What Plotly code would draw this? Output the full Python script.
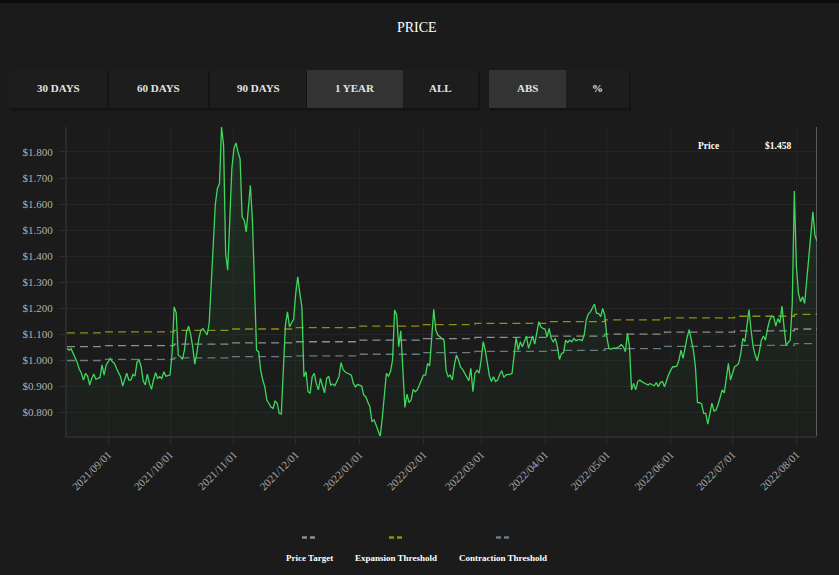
import plotly.graph_objects as go
import pandas as pd

# ---------------- data ----------------
start_date = "2021-08-12"
price = [
    1.046, 1.039, 1.044, 1.026, 1.011, 0.990, 0.965, 0.950, 0.924, 0.950,
    0.939, 0.905, 0.930, 0.947, 0.927, 0.930, 0.934, 0.982, 0.943, 0.982,
    0.995, 1.007, 0.995, 0.988, 0.969, 0.955, 0.937, 0.901, 0.930, 0.950,
    0.924, 0.924, 0.946, 0.939, 0.994, 1.001, 0.975, 0.920, 0.905, 0.947,
    0.911, 0.888, 0.925, 0.952, 0.930, 0.937, 0.930, 0.956, 0.939, 0.942,
    0.943, 1.026, 1.205, 1.182, 1.020, 1.014, 1.003, 1.039, 1.109, 1.131,
    1.100, 1.052, 0.985, 1.026, 1.084, 1.116, 1.121, 1.110, 1.097, 1.141,
    1.282, 1.448, 1.600, 1.660, 1.679, 1.896, 1.826, 1.410, 1.346, 1.538,
    1.736, 1.813, 1.835, 1.800, 1.774, 1.551, 1.538, 1.493, 1.602, 1.672,
    1.538, 1.295, 1.039, 1.033, 0.962, 0.924, 0.898, 0.847, 0.835, 0.820,
    0.815, 0.843, 0.835, 0.796, 0.794, 0.962, 1.135, 1.186, 1.128, 1.144,
    1.157, 1.257, 1.320, 1.257, 1.205, 0.937, 0.956, 0.879, 0.873, 0.937,
    0.950, 0.911, 0.886, 0.930, 0.898, 0.875, 0.930, 0.939, 0.905, 0.909,
    0.902, 0.920, 0.937, 0.991, 0.965, 0.955, 0.950, 0.947, 0.943, 0.911,
    0.898, 0.907, 0.905, 0.901, 0.867, 0.860, 0.840, 0.822, 0.764, 0.771,
    0.751, 0.732, 0.707, 0.777, 0.860, 0.950, 0.939, 0.956, 1.001, 1.193,
    1.173, 1.052, 1.113, 0.962, 0.819, 0.870, 0.837, 0.847, 0.888, 0.879,
    0.886, 0.905, 0.924, 0.943, 0.943, 0.988, 0.978, 1.090, 1.196, 1.116,
    1.097, 1.090, 1.084, 1.077, 0.960, 0.937, 0.943, 0.924, 0.982, 1.020,
    1.001, 0.973, 0.965, 0.950, 0.937, 0.921, 0.969, 0.879, 0.950, 0.962,
    0.950, 1.001, 1.071, 1.039, 0.990, 0.940, 0.918, 0.937, 0.918, 0.924,
    0.945, 0.960, 0.934, 0.943, 0.946, 0.946, 0.950, 1.026, 1.088, 1.039,
    1.071, 1.052, 1.071, 1.093, 1.046, 1.068, 1.093, 1.062, 1.103, 1.148,
    1.128, 1.122, 1.120, 1.090, 1.122, 1.084, 1.071, 1.084, 1.052, 1.003,
    1.026, 1.029, 1.077, 1.068, 1.077, 1.071, 1.084, 1.075, 1.078, 1.080,
    1.075, 1.097, 1.154, 1.177, 1.186, 1.200, 1.216, 1.180, 1.180, 1.167,
    1.199, 1.173, 1.090, 1.046, 1.042, 1.046, 1.046, 1.049, 1.052, 1.061,
    1.052, 1.033, 1.103, 1.052, 0.886, 0.911, 0.886, 0.918, 0.924, 0.918,
    0.912, 0.909, 0.905, 0.911, 0.906, 0.902, 0.914, 0.898, 0.915, 0.918,
    0.898, 0.924, 0.945, 0.962, 0.975, 0.975, 0.978, 1.001, 1.039, 1.007,
    1.050, 1.090, 1.118, 1.077, 1.039, 0.975, 0.837, 0.837, 0.832, 0.796,
    0.796, 0.755, 0.796, 0.835, 0.805, 0.809, 0.830, 0.860, 0.886, 0.875,
    0.930, 0.988, 0.924, 0.950, 0.975, 0.980, 0.988, 1.026, 1.084, 1.071,
    1.128, 1.195, 1.116, 1.052, 1.020, 0.998, 1.033, 1.077, 1.093, 1.077,
    1.122, 1.154, 1.170, 1.167, 1.131, 1.160, 1.144, 1.208, 1.128, 1.058,
    1.068, 1.077, 1.218, 1.650, 1.360, 1.257, 1.225, 1.244, 1.218, 1.308,
    1.410, 1.499, 1.570, 1.480, 1.458,
]

step_dates = [
    "2021-08-12", "2021-08-28", "2021-10-03", "2021-10-31", "2021-12-01",
    "2021-12-31", "2022-01-30", "2022-02-26", "2022-04-02", "2022-04-30",
    "2022-05-29", "2022-07-02", "2022-07-31", "2022-08-11",
]
price_target = [1.052, 1.056, 1.062, 1.067, 1.071, 1.077, 1.083, 1.088,
                1.093, 1.100, 1.108, 1.113, 1.120, 1.120]
expansion_threshold = [1.105, 1.109, 1.115, 1.120, 1.125, 1.131, 1.137, 1.142,
                       1.148, 1.155, 1.163, 1.169, 1.176, 1.176]
contraction_threshold = [0.999, 1.003, 1.009, 1.014, 1.017, 1.023, 1.029, 1.034,
                         1.038, 1.045, 1.053, 1.057, 1.064, 1.064]

range_buttons = ["30 DAYS", "60 DAYS", "90 DAYS", "1 YEAR", "ALL"]
mode_buttons = ["ABS", "%"]
legend_labels = ["Price Target", "Expansion Threshold", "Contraction Threshold"]
current_label = "Price"
current_value = "$1.458"

# ---------------- styling ----------------
W, H = 839, 575
ML, MR, MT, MB = 67, 22, 127, 139
PW, PH = W - ML - MR, H - MT - MB
SERIF = "Liberation Serif, Times New Roman, serif"
BG = "#1b1b1b"
C_PRICE = "#3fd65c"
C_TARGET = "#8e8e8e"
C_EXP = "#8f8f12"
C_CON = "#687a84"


def fx(px):
    return (px - ML) / PW


def fy(py):
    return (H - MB - py) / PH


def label(px, py, text, size, color, bold=True):
    return dict(xref="paper", yref="paper", x=fx(px), y=fy(py),
                xanchor="center", yanchor="middle",
                text=("<b>%s</b>" % text) if bold else text, showarrow=False,
                font=dict(family=SERIF, size=size, color=color))


dates = pd.date_range(start_date, periods=len(price), freq="D")

fig = go.Figure()
for vals, col in [(expansion_threshold, C_EXP), (price_target, C_TARGET),
                  (contraction_threshold, C_CON)]:
    fig.add_trace(go.Scatter(
        x=step_dates, y=vals, mode="lines", showlegend=False, hoverinfo="skip",
        line=dict(color=col, width=1.3, dash="8px,5px", shape="hv")))

fig.add_trace(go.Scatter(
    x=dates, y=price, mode="lines", showlegend=False, hoverinfo="skip",
    line=dict(color=C_PRICE, width=1.3),
    fill="tozeroy",
    fillgradient=dict(type="vertical", start=0.709, stop=1.896,
                      colorscale=[[0, "rgba(63,214,92,0.02)"],
                                  [1, "rgba(63,214,92,0.11)"]])))

shapes = []
annotations = []

# top dark strip
shapes.append(dict(type="rect", xref="paper", yref="paper", layer="below",
                   x0=fx(0), x1=fx(W), y0=fy(3), y1=fy(0),
                   fillcolor="#0c0c0c", line=dict(width=0)))

# buttons
btn_top, btn_bot = 70, 108
group1 = [(9, 107), (109, 208), (210, 306), (307, 403), (403, 478)]
group2 = [(489, 566), (566, 629)]
for (x0, x1) in [(9, 478), (489, 629)]:
    shapes.append(dict(type="rect", xref="paper", yref="paper", layer="below",
                       x0=fx(x0 + 1), x1=fx(x1 + 2), y0=fy(btn_bot + 3), y1=fy(btn_top + 2),
                       fillcolor="#141414", line=dict(width=0)))
for names, boxes, active_name in [(range_buttons, group1, "1 YEAR"),
                                  (mode_buttons, group2, "ABS")]:
    for name, (x0, x1) in zip(names, boxes):
        active = name == active_name
        shapes.append(dict(type="rect", xref="paper", yref="paper", layer="below",
                           x0=fx(x0), x1=fx(x1), y0=fy(btn_bot), y1=fy(btn_top),
                           fillcolor="#333333" if active else "#1d1d1d",
                           line=dict(width=0)))
        annotations.append(label((x0 + x1) / 2, 88, name, 11, "#e2e2e2"))

# title
annotations.append(label(416.5, 28, "PRICE", 14, "#ffffff", bold=False))

# hover-like readout and spike line
shapes.append(dict(type="line", xref="x", yref="paper", x0=dates[-1], x1=dates[-1],
                   y0=0, y1=1, line=dict(color="#9a9a9a", width=1)))
annotations.append(label(708, 146, current_label, 9.5, "#ffffff"))
annotations.append(label(778, 146, current_value, 9.5, "#ffffff"))

# manual legend (symbol above label)
leg_centers = [309, 396, 503]
leg_colors = [C_TARGET, C_EXP, C_CON]
for cx, col, lab in zip(leg_centers, leg_colors, legend_labels):
    shapes.append(dict(type="line", xref="paper", yref="paper",
                       x0=fx(cx - 7), x1=fx(cx + 7), y0=fy(537.5), y1=fy(537.5),
                       line=dict(color=col, width=2.5, dash="5px,3px")))
    annotations.append(label(cx, 558, lab, 9, "#ffffff"))

fig.update_layout(
    width=W, height=H,
    margin=dict(l=ML, r=MR, t=MT, b=MB, pad=0),
    paper_bgcolor=BG, plot_bgcolor=BG,
    hovermode=False, showlegend=False,
    shapes=shapes, annotations=annotations,
    font=dict(family=SERIF, color="#aaaaaa"),
    xaxis=dict(
        type="date", range=[dates[0], dates[-1]],
        tickformat="%Y/%m/%d", dtick="M1", tick0="2021-09-01", tickangle=-45,
        tickfont=dict(family=SERIF, size=11, color="#a9a9a9"),
        showgrid=True, gridcolor="#242424", gridwidth=1,
        ticks="outside", ticklen=6, tickcolor="#2e2e2e",
        showline=True, linecolor="#2b2b2b", linewidth=2,
        zeroline=False, fixedrange=True,
    ),
    yaxis=dict(
        range=[0.709, 1.896], tickprefix="$", tickformat=".3f",
        tick0=0.8, dtick=0.1,
        tickfont=dict(family=SERIF, size=11, color="#b0b0b0"),
        showgrid=True, gridcolor="#242424", gridwidth=1,
        ticks="outside", ticklen=6, tickcolor="#2e2e2e",
        ticklabelstandoff=4,
        showline=True, linecolor="#2b2b2b", linewidth=2,
        zeroline=False, fixedrange=True,
    ),
)

fig.write_html(
    "out.html",
    config={"displayModeBar": False},
    post_script="document.body.style.margin='0';document.body.style.background='#1b1b1b';",
)
